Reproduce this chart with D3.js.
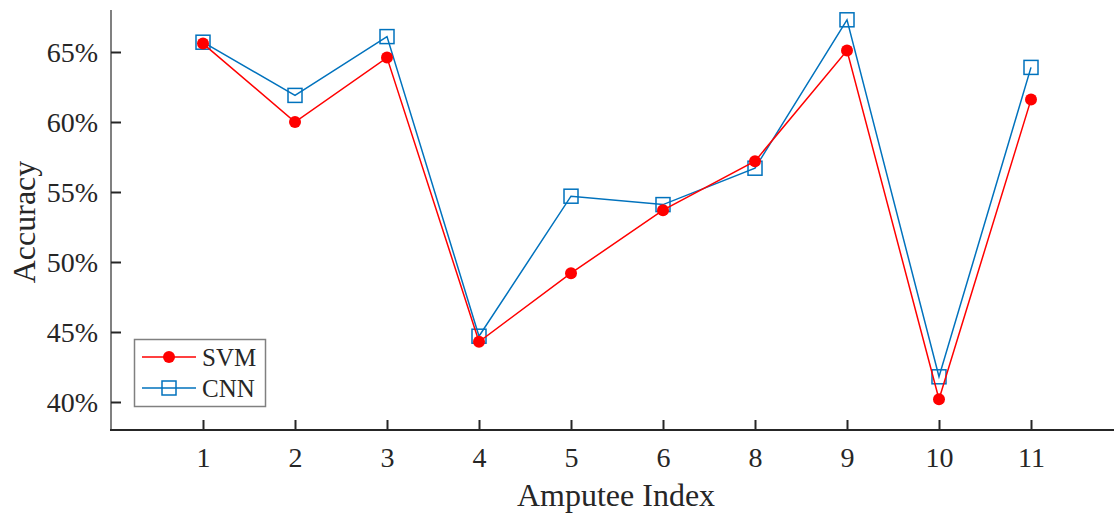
<!DOCTYPE html>
<html>
<head>
<meta charset="utf-8">
<script src="https://cdn.jsdelivr.net/npm/d3@7"></script>
<style>
  body { margin: 0; background: #fff; }
  text { font-family: "Liberation Serif", "Times New Roman", serif; fill: #262626; }
</style>
</head>
<body>
<div id="viz"></div>
<script>
const width = 1114;
const height = 516;
const margin = {top: 10, right: 2, bottom: 86, left: 111};

// Data
const amputees = ['1', '2', '3', '4', '5', '6', '8', '9', '10', '11'];
const svmAcc = [65.6, 60.0, 64.6, 44.3, 49.2, 53.7, 57.2, 65.1, 40.2, 61.6];
const cnnAcc = [65.7, 61.9, 66.1, 44.7, 54.7, 54.1, 56.7, 67.3, 41.8, 63.9];
const yTicks = [40, 45, 50, 55, 60, 65];

const svmColor = '#ff0000';
const cnnColor = '#0072bd';

const chart = d3.select('#viz')
  .append('svg')
  .attr('width', width)
  .attr('height', height);

// X-Scale: category k sits at position k+1, axis spans 0..11
const xScale = d3.scaleLinear()
  .domain([0, 11])
  .range([margin.left, margin.left + 11 * 92]);

// Y-Scale
const yScale = d3.scaleLinear()
  .domain([38, 68])
  .range([height - margin.bottom, margin.top]);

// Y axis
const yAxis = chart.append('g')
  .attr('transform', `translate(${margin.left}, 0)`)
  .call(d3.axisRight(yScale)
    .tickValues(yTicks)
    .tickSize(10)
    .tickFormat(d => d + '%'));
yAxis.select('.domain').attr('stroke', '#808080').attr('stroke-width', 2)
  .attr('d', `M0,${margin.top}V${height - margin.bottom}`);
yAxis.selectAll('.tick line').attr('stroke', '#262626').attr('stroke-width', 2);
yAxis.selectAll('.tick text')
  .attr('x', -13)
  .attr('text-anchor', 'end')
  .attr('font-size', 28)
  .attr('dy', '0.34em');

// X axis
const xAxis = chart.append('g')
  .attr('transform', `translate(0, ${height - margin.bottom})`)
  .call(d3.axisTop(xScale)
    .tickValues(d3.range(1, amputees.length + 1))
    .tickSize(10)
    .tickFormat((d, i) => amputees[i]));
xAxis.select('.domain').attr('stroke', '#262626').attr('stroke-width', 2)
  .attr('d', `M${margin.left - 1},0H${width}`);
xAxis.selectAll('.tick line').attr('stroke', '#262626').attr('stroke-width', 2);
xAxis.selectAll('.tick text')
  .attr('y', 37)
  .attr('dy', 0)
  .attr('font-size', 28);

chart.selectAll('.tick text').attr('fill', '#262626');

// Axis titles
chart.append('text')
  .attr('x', 616)
  .attr('y', 506)
  .attr('text-anchor', 'middle')
  .attr('font-size', 32)
  .text('Amputee Index');

chart.append('text')
  .attr('transform', 'translate(35, 222) rotate(-90)')
  .attr('text-anchor', 'middle')
  .attr('font-size', 32)
  .text('Accuracy');

const line = d3.line()
  .x((d, i) => xScale(i + 1))
  .y(d => yScale(d));

// CNN series
chart.append('path')
  .attr('d', line(cnnAcc))
  .attr('fill', 'none')
  .attr('stroke', cnnColor)
  .attr('stroke-width', 1.5);

chart.append('g')
  .selectAll('rect')
  .data(cnnAcc)
  .join('rect')
    .attr('x', (d, i) => xScale(i + 1) - 7)
    .attr('y', d => yScale(d) - 7)
    .attr('width', 14)
    .attr('height', 14)
    .attr('fill', 'none')
    .attr('stroke', cnnColor)
    .attr('stroke-width', 1.5);

// SVM series
chart.append('path')
  .attr('d', line(svmAcc))
  .attr('fill', 'none')
  .attr('stroke', svmColor)
  .attr('stroke-width', 1.5);

chart.append('g')
  .selectAll('circle')
  .data(svmAcc)
  .join('circle')
    .attr('cx', (d, i) => xScale(i + 1))
    .attr('cy', d => yScale(d))
    .attr('r', 6)
    .attr('fill', svmColor);

// Legend
const legend = chart.append('g');
legend.append('rect')
  .attr('x', 134.5)
  .attr('y', 339.5)
  .attr('width', 131)
  .attr('height', 67)
  .attr('fill', '#fff')
  .attr('stroke', '#808080')
  .attr('stroke-width', 1.5);

const legendItems = [
  {name: 'SVM', color: svmColor, y: 357},
  {name: 'CNN', color: cnnColor, y: 388}
];

legendItems.forEach(item => {
  legend.append('line')
    .attr('x1', 142).attr('x2', 196)
    .attr('y1', item.y).attr('y2', item.y)
    .attr('stroke', item.color)
    .attr('stroke-width', 1.5);
  if (item.name === 'SVM') {
    legend.append('circle')
      .attr('cx', 169).attr('cy', item.y).attr('r', 6)
      .attr('fill', item.color);
  } else {
    legend.append('rect')
      .attr('x', 162).attr('y', item.y - 7)
      .attr('width', 14).attr('height', 14)
      .attr('fill', 'none')
      .attr('stroke', item.color)
      .attr('stroke-width', 1.5);
  }
  legend.append('text')
    .attr('x', 202)
    .attr('y', item.y)
    .attr('dy', '0.34em')
    .attr('font-size', 25)
    .text(item.name);
});
</script>
</body>
</html>
